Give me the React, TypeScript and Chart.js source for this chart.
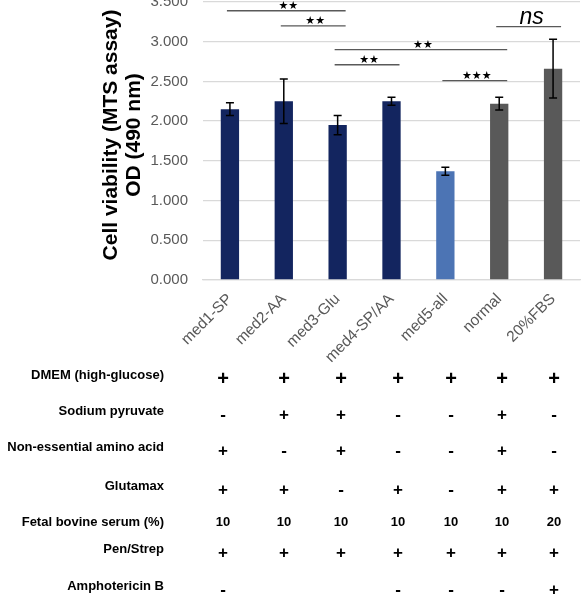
import React, { useEffect, useRef } from 'react';
import { Chart, registerables } from 'chart.js';

Chart.register(...registerables);

// ---- data ----
const categories = ['med1-SP', 'med2-AA', 'med3-Glu', 'med4-SP/AA', 'med5-all', 'normal', '20%FBS'];
const means = [2.15, 2.25, 1.95, 2.25, 1.37, 2.22, 2.66];
const errors = [0.08, 0.28, 0.12, 0.05, 0.05, 0.08, 0.37];
const barColors = ['#13255F', '#13255F', '#13255F', '#13255F', '#4C74B4', '#595959', '#595959'];

const yMin = 0;
const yMax = 3.5;
const yStep = 0.5;

// significance brackets
const sigFrom = [0, 1, 2, 2, 4, 5];
const sigTo = [2, 2, 5, 3, 5, 6];
const sigLevel = [3.39, 3.2, 2.9, 2.71, 2.51, 3.19];
const sigLabel = ['**', '**', '**', '**', '***', 'ns'];

// composition table
const rowLabels = [
  'DMEM (high-glucose)',
  'Sodium pyruvate',
  'Non-essential amino acid',
  'Glutamax',
  'Fetal bovine serum (%)',
  'Pen/Strep',
  'Amphotericin B',
];
const rowDMEM = ['+', '+', '+', '+', '+', '+', '+'];
const rowPyruvate = ['-', '+', '+', '-', '-', '+', '-'];
const rowNEAA = ['+', '-', '+', '-', '-', '+', '-'];
const rowGlutamax = ['+', '+', '-', '+', '-', '+', '+'];
const rowFBS = ['10', '10', '10', '10', '10', '10', '20'];
const rowPenStrep = ['+', '+', '+', '+', '+', '+', '+'];
const rowAmphoB = ['-', '', '', '-', '-', '-', '+'];
const tableRows = [rowDMEM, rowPyruvate, rowNEAA, rowGlutamax, rowFBS, rowPenStrep, rowAmphoB];

const yTitleLines = ['Cell viability (MTS assay)', 'OD (490 nm)'];

// ---- layout (not data) ----
const FONT = '"Liberation Sans", Arial, Helvetica, sans-serif';
const W = 581;
const H = 606;
const tableColX = [223, 284, 341, 398, 451, 502, 554];
const tableRowY = [375, 411, 447, 486, 522, 549, 586];
const tableLabelRight = 164;

const overlayPlugin = {
  id: 'overlay',
  afterDatasetsDraw(chart: any) {
    const ctx = chart.ctx as CanvasRenderingContext2D;
    const y = chart.scales.y;
    const meta = chart.getDatasetMeta(0);
    ctx.save();
    // error bars
    ctx.strokeStyle = '#000';
    ctx.lineWidth = 1.5;
    means.forEach((m, i) => {
      const x = meta.data[i].x;
      const t = y.getPixelForValue(m + errors[i]);
      const b = y.getPixelForValue(m - errors[i]);
      ctx.beginPath();
      ctx.moveTo(x, t);
      ctx.lineTo(x, b);
      ctx.moveTo(x - 4, t);
      ctx.lineTo(x + 4, t);
      ctx.moveTo(x - 4, b);
      ctx.lineTo(x + 4, b);
      ctx.stroke();
    });
    // significance brackets
    sigFrom.forEach((f, k) => {
      const x1 = meta.data[f].x - 3;
      const x2 = meta.data[sigTo[k]].x + 8;
      const yy = y.getPixelForValue(sigLevel[k]);
      ctx.strokeStyle = '#595959';
      ctx.lineWidth = 1.4;
      ctx.beginPath();
      ctx.moveTo(x1, yy);
      ctx.lineTo(x2, yy);
      ctx.stroke();
      const cx = (x1 + x2) / 2;
      ctx.fillStyle = '#000';
      ctx.textAlign = 'center';
      ctx.textBaseline = 'alphabetic';
      if (sigLabel[k] === 'ns') {
        ctx.font = `italic 23px ${FONT}`;
        ctx.fillText('ns', cx + 3, yy - 3);
      } else {
        ctx.font = `11px "DejaVu Sans", sans-serif`;
        const stars = sigLabel[k].replace(/\*/g, '\u2605');
        ctx.fillText(stars, cx + 2, yy - 2);
      }
    });
    ctx.restore();
  },
  afterDraw(chart: any) {
    const ctx = chart.ctx as CanvasRenderingContext2D;
    const area = chart.chartArea;
    ctx.save();
    // y-axis title
    ctx.fillStyle = '#000';
    ctx.font = `bold 21px ${FONT}`;
    ctx.textAlign = 'center';
    ctx.textBaseline = 'middle';
    const cy = (area.top + area.bottom) / 2 - 6;
    yTitleLines.forEach((line, i) => {
      ctx.save();
      ctx.translate(111 + i * 23, cy);
      ctx.rotate(-Math.PI / 2);
      ctx.fillText(line, 0, 0);
      ctx.restore();
    });
    // composition table
    rowLabels.forEach((lab, r) => {
      const ry = tableRowY[r];
      ctx.fillStyle = '#000';
      ctx.font = `bold 13px ${FONT}`;
      ctx.textAlign = 'right';
      ctx.textBaseline = 'middle';
      ctx.fillText(lab, tableLabelRight, ry);
      ctx.textAlign = 'center';
      tableRows[r].forEach((v, c) => {
        if (!v) return;
        if (v === '+' || v === '-') {
          ctx.font = r === 0 ? `bold 20px ${FONT}` : `bold 17px ${FONT}`;
          ctx.fillText(v, tableColX[c], ry + 4);
        } else {
          ctx.font = `bold 13px ${FONT}`;
          ctx.fillText(v, tableColX[c], ry);
        }
      });
    });
    ctx.restore();
  },
};

export default function App() {
  const ref = useRef<HTMLCanvasElement | null>(null);

  useEffect(() => {
    if (!ref.current) return;
    const chart = new Chart(ref.current, {
      type: 'bar',
      data: {
        labels: categories,
        datasets: [
          {
            data: means,
            backgroundColor: barColors,
            borderWidth: 0,
            barPercentage: 0.34,
            categoryPercentage: 1,
          },
        ],
      },
      options: {
        responsive: false,
        animation: false,
        layout: { padding: { top: 2, right: 1, left: 0, bottom: 236 } },
        plugins: {
          legend: { display: false },
          tooltip: { enabled: false },
          title: { display: false },
        },
        scales: {
          x: {
            grid: { display: false, drawTicks: false },
            border: { display: true, color: '#d9d9d9', width: 1.3 },
            ticks: {
              color: '#595959',
              font: { family: FONT, size: 15.5 },
              minRotation: 45,
              maxRotation: 45,
              padding: 10,
            },
            afterFit(scale: any) {
              scale.height = 90;
              scale.paddingLeft = 0;
              scale.paddingRight = 0;
            },
          },
          y: {
            min: yMin,
            max: yMax,
            grid: { color: '#d9d9d9', lineWidth: 1.3, drawTicks: false },
            border: { display: false },
            ticks: {
              stepSize: yStep,
              color: '#595959',
              font: { family: FONT, size: 15 },
              padding: 15,
              callback: (v: any) => Number(v).toFixed(3),
            },
            afterFit(scale: any) {
              scale.width = 203;
              scale.paddingTop = 0;
              scale.paddingBottom = 0;
            },
          },
        },
      },
      plugins: [overlayPlugin],
    });
    return () => chart.destroy();
  }, []);

  return (
    <div style={{ position: 'fixed', left: 0, top: 0, width: W, height: H, background: '#fff' }}>
      <canvas ref={ref} width={W} height={H} style={{ display: 'block', width: W, height: H }} />
    </div>
  );
}
